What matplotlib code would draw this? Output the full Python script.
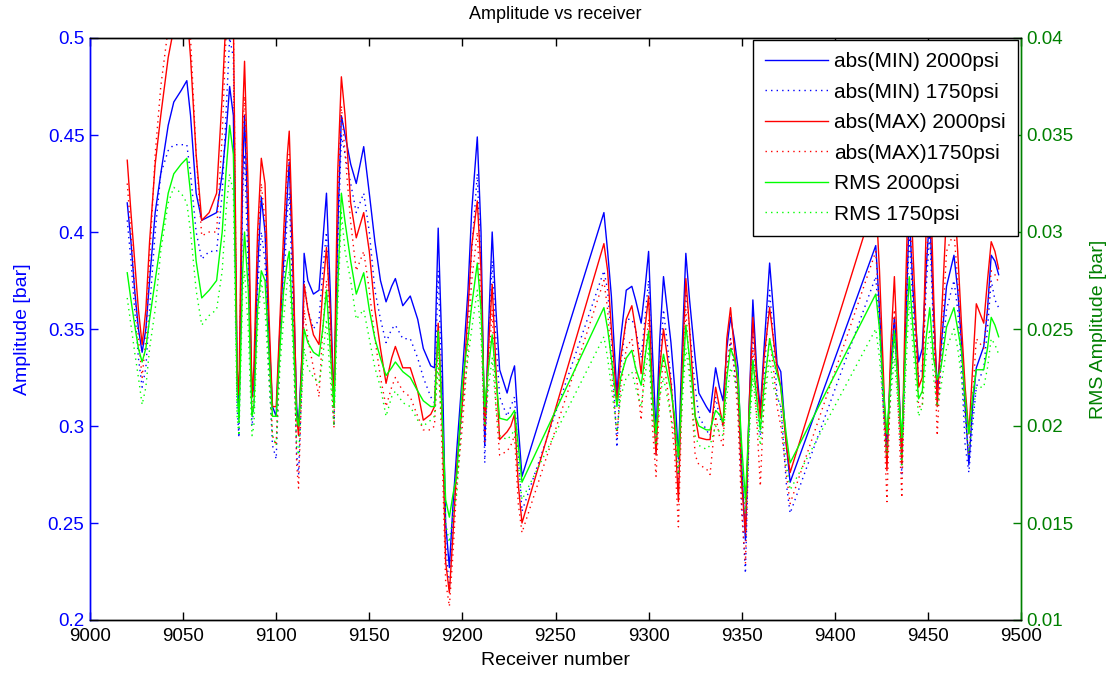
import matplotlib
matplotlib.use("Agg")
import matplotlib.pyplot as plt

receiver = [9020, 9022, 9024, 9026, 9028, 9030, 9032, 9035, 9038, 9042, 9045, 9049, 9052, 9054, 9057, 9060,
            9064, 9068, 9071, 9073, 9075, 9077, 9079, 9080, 9082, 9083, 9085, 9087, 9088, 9090, 9092, 9094,
            9096, 9098, 9100, 9102, 9104, 9106, 9107, 9109, 9111, 9112, 9114, 9115, 9117, 9120, 9123, 9125,
            9127, 9129, 9131, 9133, 9135, 9137, 9140, 9143, 9147, 9150, 9153, 9156, 9159, 9162, 9164, 9168,
            9172, 9176, 9179, 9183, 9185, 9187, 9189, 9191, 9193, 9195, 9197, 9200, 9203, 9205, 9208, 9210,
            9212, 9214, 9216, 9218, 9220, 9224, 9226, 9228, 9230, 9232, 9276, 9278, 9280, 9283, 9285, 9288,
            9291, 9293, 9296, 9298, 9300, 9302, 9304, 9306, 9308, 9312, 9314, 9316, 9318, 9320, 9322, 9325,
            9327, 9331, 9333, 9336, 9338, 9340, 9342, 9344, 9346, 9348, 9350, 9352, 9354, 9356, 9358, 9360,
            9362, 9365, 9367, 9369, 9371, 9374, 9376, 9422, 9424, 9426, 9428, 9430, 9432, 9434, 9436, 9438,
            9440, 9442, 9445, 9447, 9449, 9451, 9453, 9455, 9457, 9460, 9464, 9466, 9468, 9470, 9472, 9474,
            9476, 9480, 9482, 9484, 9486, 9488]

min_2000 = [0.415, 0.395, 0.370, 0.350, 0.338, 0.350, 0.375, 0.410, 0.430, 0.455, 0.467, 0.473, 0.478, 0.460, 0.420, 0.406,
            0.408, 0.410, 0.430, 0.450, 0.475, 0.460, 0.330, 0.305, 0.430, 0.460, 0.400, 0.315, 0.320, 0.380, 0.418, 0.400,
            0.350, 0.310, 0.305, 0.350, 0.385, 0.420, 0.436, 0.380, 0.310, 0.300, 0.340, 0.389, 0.375, 0.368, 0.370, 0.395,
            0.420, 0.370, 0.312, 0.400, 0.460, 0.450, 0.435, 0.425, 0.444, 0.420, 0.395, 0.375, 0.364, 0.372, 0.376, 0.362,
            0.367, 0.355, 0.340, 0.331, 0.330, 0.402, 0.340, 0.250, 0.227, 0.260, 0.288, 0.327, 0.370, 0.411, 0.449, 0.400,
            0.290, 0.350, 0.400, 0.360, 0.329, 0.317, 0.325, 0.331, 0.300, 0.274, 0.410, 0.390, 0.367, 0.316, 0.345, 0.370,
            0.372, 0.365, 0.353, 0.370, 0.390, 0.340, 0.296, 0.345, 0.377, 0.343, 0.320, 0.283, 0.340, 0.389, 0.365, 0.335,
            0.317, 0.310, 0.307, 0.330, 0.320, 0.313, 0.340, 0.356, 0.345, 0.330, 0.280, 0.241, 0.310, 0.365, 0.330, 0.308,
            0.340, 0.384, 0.360, 0.332, 0.328, 0.290, 0.271, 0.393, 0.360, 0.320, 0.289, 0.330, 0.356, 0.330, 0.286, 0.350,
            0.410, 0.370, 0.333, 0.340, 0.380, 0.410, 0.360, 0.320, 0.340, 0.372, 0.388, 0.370, 0.344, 0.310, 0.280, 0.310,
            0.330, 0.341, 0.360, 0.388, 0.385, 0.378]

min_1750 = [0.406, 0.385, 0.360, 0.335, 0.320, 0.330, 0.360, 0.400, 0.430, 0.442, 0.445, 0.445, 0.445, 0.430, 0.400, 0.386,
            0.390, 0.390, 0.420, 0.460, 0.500, 0.490, 0.310, 0.294, 0.420, 0.440, 0.380, 0.300, 0.310, 0.370, 0.400, 0.385,
            0.330, 0.290, 0.283, 0.340, 0.370, 0.410, 0.420, 0.360, 0.285, 0.275, 0.330, 0.375, 0.360, 0.350, 0.355, 0.380,
            0.400, 0.350, 0.300, 0.390, 0.450, 0.440, 0.425, 0.410, 0.420, 0.400, 0.370, 0.355, 0.343, 0.350, 0.352, 0.345,
            0.345, 0.335, 0.325, 0.315, 0.312, 0.380, 0.320, 0.240, 0.215, 0.250, 0.275, 0.310, 0.355, 0.390, 0.430, 0.380,
            0.281, 0.340, 0.385, 0.345, 0.315, 0.305, 0.310, 0.315, 0.285, 0.256, 0.380, 0.370, 0.345, 0.289, 0.330, 0.355,
            0.355, 0.350, 0.335, 0.355, 0.375, 0.320, 0.285, 0.330, 0.360, 0.325, 0.300, 0.270, 0.330, 0.370, 0.350, 0.320,
            0.305, 0.298, 0.295, 0.315, 0.305, 0.300, 0.325, 0.345, 0.330, 0.315, 0.260, 0.224, 0.300, 0.350, 0.315, 0.295,
            0.325, 0.370, 0.345, 0.315, 0.310, 0.270, 0.255, 0.377, 0.350, 0.310, 0.280, 0.320, 0.345, 0.320, 0.275, 0.340,
            0.400, 0.360, 0.325, 0.330, 0.370, 0.400, 0.350, 0.310, 0.330, 0.360, 0.375, 0.360, 0.330, 0.290, 0.276, 0.300,
            0.320, 0.330, 0.350, 0.375, 0.365, 0.361]

max_2000 = [0.437, 0.410, 0.385, 0.360, 0.342, 0.360, 0.395, 0.435, 0.460, 0.490, 0.505, 0.515, 0.515, 0.490, 0.440, 0.406,
            0.410, 0.420, 0.470, 0.510, 0.520, 0.510, 0.330, 0.316, 0.460, 0.488, 0.420, 0.315, 0.330, 0.400, 0.438, 0.425,
            0.360, 0.310, 0.310, 0.355, 0.400, 0.440, 0.452, 0.390, 0.305, 0.295, 0.340, 0.373, 0.360, 0.347, 0.342, 0.370,
            0.392, 0.360, 0.310, 0.430, 0.480, 0.460, 0.415, 0.397, 0.410, 0.390, 0.360, 0.340, 0.322, 0.335, 0.341, 0.330,
            0.330, 0.318, 0.303, 0.306, 0.310, 0.353, 0.310, 0.230, 0.214, 0.245, 0.280, 0.312, 0.360, 0.393, 0.416, 0.380,
            0.300, 0.340, 0.373, 0.330, 0.293, 0.297, 0.300, 0.306, 0.270, 0.250, 0.394, 0.380, 0.350, 0.312, 0.335, 0.355,
            0.362, 0.350, 0.327, 0.350, 0.367, 0.320, 0.285, 0.330, 0.350, 0.322, 0.300, 0.261, 0.330, 0.376, 0.350, 0.305,
            0.294, 0.293, 0.293, 0.320, 0.310, 0.300, 0.345, 0.361, 0.340, 0.320, 0.270, 0.245, 0.310, 0.356, 0.325, 0.304,
            0.335, 0.361, 0.345, 0.330, 0.320, 0.290, 0.276, 0.418, 0.380, 0.330, 0.277, 0.340, 0.377, 0.330, 0.280, 0.370,
            0.440, 0.390, 0.320, 0.325, 0.400, 0.440, 0.370, 0.310, 0.350, 0.410, 0.420, 0.390, 0.353, 0.320, 0.296, 0.330,
            0.363, 0.353, 0.375, 0.395, 0.390, 0.381]

max_1750 = [0.425, 0.400, 0.370, 0.345, 0.325, 0.345, 0.385, 0.440, 0.475, 0.505, 0.515, 0.520, 0.520, 0.500, 0.440, 0.398,
            0.400, 0.400, 0.450, 0.500, 0.515, 0.510, 0.320, 0.305, 0.450, 0.470, 0.400, 0.305, 0.320, 0.390, 0.425, 0.405,
            0.340, 0.295, 0.290, 0.345, 0.390, 0.430, 0.440, 0.370, 0.280, 0.268, 0.330, 0.360, 0.345, 0.330, 0.315, 0.350,
            0.375, 0.340, 0.299, 0.410, 0.465, 0.440, 0.405, 0.380, 0.390, 0.370, 0.345, 0.325, 0.310, 0.320, 0.325, 0.318,
            0.315, 0.305, 0.298, 0.298, 0.300, 0.340, 0.290, 0.220, 0.207, 0.235, 0.270, 0.300, 0.340, 0.375, 0.400, 0.360,
            0.292, 0.330, 0.360, 0.310, 0.285, 0.287, 0.290, 0.295, 0.260, 0.245, 0.375, 0.360, 0.330, 0.295, 0.320, 0.340,
            0.345, 0.330, 0.303, 0.335, 0.355, 0.300, 0.274, 0.315, 0.335, 0.305, 0.285, 0.248, 0.315, 0.360, 0.330, 0.285,
            0.280, 0.278, 0.275, 0.305, 0.295, 0.290, 0.330, 0.345, 0.330, 0.305, 0.255, 0.229, 0.300, 0.340, 0.305, 0.269,
            0.315, 0.345, 0.330, 0.310, 0.300, 0.275, 0.260, 0.390, 0.360, 0.310, 0.261, 0.325, 0.360, 0.310, 0.263, 0.350,
            0.420, 0.370, 0.310, 0.310, 0.380, 0.420, 0.350, 0.295, 0.335, 0.390, 0.400, 0.375, 0.340, 0.305, 0.285, 0.315,
            0.345, 0.340, 0.360, 0.380, 0.378, 0.374]

rms_2000 = [0.0279, 0.0265, 0.0252, 0.0240, 0.0233, 0.0240, 0.0255, 0.0275, 0.0295, 0.0320, 0.0330, 0.0335, 0.0338, 0.0320, 0.0285, 0.0266,
            0.0270, 0.0275, 0.0300, 0.0330, 0.0355, 0.0340, 0.0220, 0.0202, 0.0280, 0.0300, 0.0270, 0.0205, 0.0210, 0.0260, 0.0280, 0.0275,
            0.0240, 0.0205, 0.0205, 0.0240, 0.0270, 0.0285, 0.0290, 0.0250, 0.0205, 0.0200, 0.0230, 0.0250, 0.0243, 0.0238, 0.0236, 0.0250,
            0.0270, 0.0240, 0.0210, 0.0270, 0.0320, 0.0305, 0.0285, 0.0268, 0.0279, 0.0260, 0.0245, 0.0235, 0.0226, 0.0230, 0.0233, 0.0228,
            0.0225, 0.0218, 0.0213, 0.0210, 0.0210, 0.0249, 0.0210, 0.0162, 0.0153, 0.0165, 0.0175, 0.0223, 0.0245, 0.0262, 0.0284, 0.0260,
            0.0210, 0.0230, 0.0247, 0.0225, 0.0204, 0.0203, 0.0205, 0.0208, 0.0190, 0.0171, 0.0261, 0.0250, 0.0235, 0.0210, 0.0225, 0.0235,
            0.0239, 0.0230, 0.0221, 0.0235, 0.0249, 0.0215, 0.0196, 0.0225, 0.0237, 0.0218, 0.0205, 0.0184, 0.0220, 0.0252, 0.0235, 0.0205,
            0.0200, 0.0198, 0.0198, 0.0208, 0.0206, 0.0202, 0.0225, 0.0240, 0.0235, 0.0225, 0.0190, 0.0162, 0.0205, 0.0234, 0.0215, 0.0198,
            0.0220, 0.0245, 0.0235, 0.0227, 0.0220, 0.0195, 0.0181, 0.0268, 0.0250, 0.0220, 0.0196, 0.0225, 0.0249, 0.0220, 0.0194, 0.0240,
            0.0277, 0.0250, 0.0214, 0.0218, 0.0245, 0.0261, 0.0235, 0.0224, 0.0230, 0.0251, 0.0261, 0.0250, 0.0239, 0.0215, 0.0196, 0.0215,
            0.0229, 0.0229, 0.0240, 0.0256, 0.0252, 0.0246]

rms_1750 = [0.0266, 0.0252, 0.0238, 0.0225, 0.0211, 0.0220, 0.0240, 0.0260, 0.0290, 0.0315, 0.0323, 0.0320, 0.0315, 0.0300, 0.0270, 0.0252,
            0.0257, 0.0260, 0.0280, 0.0310, 0.0330, 0.0320, 0.0205, 0.0195, 0.0270, 0.0280, 0.0250, 0.0195, 0.0200, 0.0250, 0.0275, 0.0260,
            0.0225, 0.0195, 0.0190, 0.0230, 0.0255, 0.0275, 0.0280, 0.0240, 0.0190, 0.0185, 0.0220, 0.0240, 0.0230, 0.0225, 0.0222, 0.0235,
            0.0255, 0.0225, 0.0200, 0.0260, 0.0310, 0.0290, 0.0275, 0.0255, 0.0260, 0.0245, 0.0230, 0.0220, 0.0205, 0.0215, 0.0218, 0.0212,
            0.0210, 0.0203, 0.0200, 0.0203, 0.0205, 0.0230, 0.0200, 0.0150, 0.0140, 0.0155, 0.0165, 0.0210, 0.0235, 0.0250, 0.0270, 0.0245,
            0.0200, 0.0220, 0.0235, 0.0210, 0.0195, 0.0193, 0.0195, 0.0198, 0.0180, 0.0162, 0.0246, 0.0235, 0.0220, 0.0197, 0.0215, 0.0225,
            0.0228, 0.0220, 0.0210, 0.0225, 0.0240, 0.0205, 0.0190, 0.0215, 0.0225, 0.0205, 0.0195, 0.0175, 0.0210, 0.0240, 0.0225, 0.0195,
            0.0190, 0.0188, 0.0190, 0.0200, 0.0197, 0.0195, 0.0215, 0.0230, 0.0225, 0.0215, 0.0180, 0.0155, 0.0195, 0.0225, 0.0205, 0.0190,
            0.0210, 0.0235, 0.0220, 0.0215, 0.0210, 0.0180, 0.0167, 0.0250, 0.0235, 0.0210, 0.0185, 0.0215, 0.0235, 0.0210, 0.0180, 0.0225,
            0.0265, 0.0240, 0.0205, 0.0210, 0.0235, 0.0250, 0.0225, 0.0210, 0.0220, 0.0240, 0.0250, 0.0240, 0.0225, 0.0205, 0.0185, 0.0205,
            0.0220, 0.0220, 0.0230, 0.0245, 0.0242, 0.0237]

xticks = [9000, 9050, 9100, 9150, 9200, 9250, 9300, 9350, 9400, 9450, 9500]
yticks_left = [0.2, 0.25, 0.3, 0.35, 0.4, 0.45, 0.5]
yticks_right = [0.01, 0.015, 0.02, 0.025, 0.03, 0.035, 0.04]
labels = ["abs(MIN) 2000psi", "abs(MIN) 1750psi", "abs(MAX) 2000psi",
          "abs(MAX)1750psi", "RMS 2000psi", "RMS 1750psi"]

plt.rcParams['font.family'] = ['Liberation Sans', 'DejaVu Sans']

BLUE = '#0000ff'
RED = '#ff0000'
GREEN = '#00ff00'
DKGREEN = '#008000'
DOT = (0, (1, 3))

fig = plt.figure(figsize=(11.12, 6.79), dpi=100)
W, H = 1112, 679
ax = fig.add_axes([90 / W, 1 - 620 / H, (1021 - 90) / W, (620 - 38) / H])
ax2 = ax.twinx()

l1, = ax.plot(receiver, min_2000, color=BLUE, lw=1.0)
l2, = ax.plot(receiver, min_1750, color=BLUE, lw=1.0, linestyle=DOT)
l3, = ax.plot(receiver, max_2000, color=RED, lw=1.0)
l4, = ax.plot(receiver, max_1750, color=RED, lw=1.0, linestyle=DOT)
l5, = ax2.plot(receiver, rms_2000, color=GREEN, lw=1.0)
l6, = ax2.plot(receiver, rms_1750, color=GREEN, lw=1.0, linestyle=DOT)

ax.set_xlim(9000, 9500)
ax.set_ylim(0.2, 0.5)
ax2.set_ylim(0.01, 0.04)

fs = 13.5
ax.set_xticks(xticks)
ax.set_xticklabels([str(t) for t in xticks], fontsize=fs)
ax.set_yticks(yticks_left)
ax.set_yticklabels([f"{t:g}" for t in yticks_left], fontsize=fs, color=BLUE)
ax2.set_yticks(yticks_right)
ax2.set_yticklabels([f"{t:g}" for t in yticks_right], fontsize=fs, color=DKGREEN)

ax.tick_params(axis='x', direction='in', top=True, length=6, width=1, colors='black', pad=6)
ax.tick_params(axis='y', direction='in', length=6, width=1, colors=BLUE, labelcolor=BLUE, pad=4)
ax2.tick_params(axis='y', direction='in', length=6, width=1, colors=DKGREEN, labelcolor=DKGREEN, pad=4)

for a in (ax, ax2):
    a.spines['top'].set_color('black')
    a.spines['bottom'].set_color('black')
    a.spines['left'].set_color(BLUE)
    a.spines['right'].set_color(DKGREEN)
    for s in a.spines.values():
        s.set_linewidth(1.0)

ax.set_xlabel("Receiver number", fontsize=14, labelpad=5)
ax.set_ylabel("Amplitude [bar]", fontsize=14, color=BLUE, labelpad=12)
ax2.set_ylabel("RMS Amplitude [bar]", fontsize=14, color=DKGREEN, labelpad=12)
ax.set_title("Amplitude vs receiver", fontsize=13, pad=14)

leg = ax2.legend([l1, l2, l3, l4, l5, l6], labels, loc='upper right',
                 bbox_to_anchor=(0.997, 0.997), fontsize=15, handlelength=3.0,
                 labelspacing=0.55, handletextpad=0.3, borderpad=0.6,
                 borderaxespad=0.0,
                 fancybox=False, framealpha=1, edgecolor='black')
leg.get_frame().set_linewidth(1.0)

fig.savefig("out.png", dpi=100, facecolor='white')
